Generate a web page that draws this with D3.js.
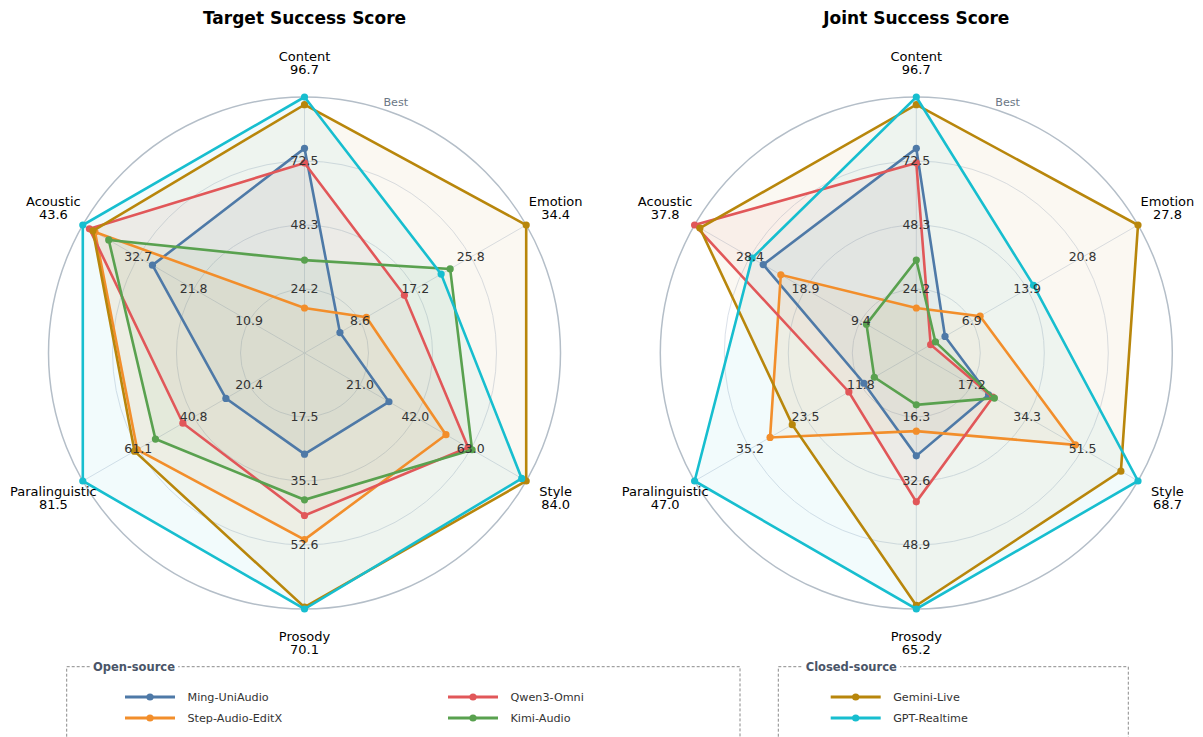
<!DOCTYPE html>
<html>
<head>
<meta charset="utf-8">
<script src="https://cdn.jsdelivr.net/npm/d3@7"></script>
<style>
  html, body { margin: 0; padding: 0; background: #ffffff; }
  svg { display: block; font-family: "DejaVu Sans", sans-serif; }
</style>
</head>
<body>
<svg id="chart" width="1203" height="737"></svg>
<script>
// ---------- DATA ----------
const axes = ["Content", "Emotion", "Style", "Prosody", "Paralinguistic", "Acoustic"];

const seriesNames = ["Ming-UniAudio", "Step-Audio-EditX", "Qwen3-Omni", "Kimi-Audio", "Gemini-Live", "GPT-Realtime"];
const seriesGroups = ["Open-source", "Open-source", "Open-source", "Open-source", "Closed-source", "Closed-source"];

// Target Success Score
const targetMax = [96.7, 34.4, 84.0, 70.1, 81.5, 43.6];
const targetMaxLabels = ["96.7", "34.4", "84.0", "70.1", "81.5", "43.6"];
const targetTicks = [
  ["24.2", "48.3", "72.5"],
  ["8.6", "17.2", "25.8"],
  ["21.0", "42.0", "63.0"],
  ["17.5", "35.1", "52.6"],
  ["20.4", "40.8", "61.1"],
  ["10.9", "21.8", "32.7"]
];
const targetMing   = [77.3, 5.5, 32.0, 27.7, 28.9, 29.9];
const targetStep   = [17.0, 9.6, 53.6, 51.1, 61.5, 41.2];
const targetQwen   = [71.8, 15.5, 62.0, 44.5, 44.7, 42.3];
const targetKimi   = [35.1, 22.6, 63.5, 40.2, 54.8, 38.5];
const targetGemini = [93.8, 34.4, 84.0, 69.6, 62.5, 41.6];
const targetGPT    = [96.7, 21.2, 82.3, 70.1, 81.5, 43.6];

// Joint Success Score
const jointMax = [96.7, 27.8, 68.7, 65.2, 47.0, 37.8];
const jointMaxLabels = ["96.7", "27.8", "68.7", "65.2", "47.0", "37.8"];
const jointTicks = [
  ["24.2", "48.3", "72.5"],
  ["6.9", "13.9", "20.8"],
  ["17.2", "34.3", "51.5"],
  ["16.3", "32.6", "48.9"],
  ["11.8", "23.5", "35.2"],
  ["9.4", "18.9", "28.4"]
];
const jointMing   = [77.3, 3.6, 22.4, 26.2, 11.1, 26.1];
const jointStep   = [17.0, 8.0, 49.3, 19.9, 31.0, 23.1];
const jointQwen   = [71.8, 1.8, 23.7, 37.9, 14.3, 37.8];
const jointKimi   = [35.1, 2.4, 24.2, 13.2, 8.9, 8.5];
const jointGemini = [93.8, 27.8, 63.4, 64.3, 26.3, 36.9];
const jointGPT    = [96.7, 14.7, 68.7, 65.2, 47.0, 28.0];

const colors = ["#4e79a7", "#f28e2b", "#e15759", "#59a14f", "#b8860b", "#17becf"];

// ---------- CHART ----------
const svg = d3.select("#chart");
svg.append("rect").attr("width", 1203).attr("height", 737).attr("fill", "#ffffff");

const R = 256;
const ringLevels = [0.25, 0.5, 0.75];

function drawRadar(cx, cy, title, maxVals, maxLabels, ticks, seriesVals) {
  const g = svg.append("g").attr("transform", `translate(${cx},${cy})`);
  const n = axes.length;
  const angle = d3.scaleLinear().domain([0, n]).range([0, 2 * Math.PI]);
  const rScales = maxVals.map(m => d3.scaleLinear().domain([0, m]).range([0, R]));
  const pt = (a, r) => [r * Math.sin(a), -r * Math.cos(a)];

  // title
  svg.append("text")
    .attr("x", cx).attr("y", 18)
    .attr("text-anchor", "middle").attr("dominant-baseline", "central")
    .attr("font-size", 17).attr("font-weight", "bold").attr("fill", "#000")
    .text(title);

  // grid rings
  g.selectAll("circle.ring").data(ringLevels).enter().append("circle")
    .attr("r", d => d * R).attr("fill", "none")
    .attr("stroke", "#dbe1ea").attr("stroke-width", 1);
  // spokes
  axes.forEach((ax, i) => {
    const [x, y] = pt(angle(i), R);
    g.append("line").attr("x1", 0).attr("y1", 0).attr("x2", x).attr("y2", y)
      .attr("stroke", "#dbe1ea").attr("stroke-width", 1);
  });
  // outer ring
  g.append("circle").attr("r", R).attr("fill", "none")
    .attr("stroke", "#b4bec8").attr("stroke-width", 1.5);

  const line = d3.lineRadial()
    .angle((d, i) => angle(i))
    .radius((d, i) => rScales[i](d))
    .curve(d3.curveLinearClosed);

  // fills
  seriesVals.forEach((vals, s) => {
    g.append("path").attr("d", line(vals))
      .attr("fill", colors[s]).attr("fill-opacity", 0.055).attr("stroke", "none");
  });
  // lines + markers
  seriesVals.forEach((vals, s) => {
    g.append("path").attr("d", line(vals))
      .attr("fill", "none").attr("stroke", colors[s]).attr("stroke-width", 2.6)
      .attr("stroke-linejoin", "miter");
    g.selectAll(null).data(vals).enter().append("circle")
      .attr("cx", (d, i) => pt(angle(i), rScales[i](d))[0])
      .attr("cy", (d, i) => pt(angle(i), rScales[i](d))[1])
      .attr("r", 3.6).attr("fill", colors[s]);
  });

  // tick labels
  axes.forEach((ax, i) => {
    ringLevels.forEach((lv, k) => {
      const [x, y] = pt(angle(i), rScales[i](maxVals[i] * lv));
      g.append("text").attr("x", x).attr("y", y - 1)
        .attr("text-anchor", "middle").attr("dominant-baseline", "central")
        .attr("font-size", 12.5).attr("fill", "#333333")
        .text(ticks[i][k]);
    });
  });

  // axis labels
  axes.forEach((ax, i) => {
    const [x, y] = pt(angle(i), 290);
    const t = g.append("text").attr("text-anchor", "middle")
      .attr("font-size", 13).attr("fill", "#000");
    t.append("tspan").attr("x", x).attr("y", y - 6.8).attr("dominant-baseline", "central").text(ax);
    t.append("tspan").attr("x", x).attr("y", y + 6.8).attr("dominant-baseline", "central").text(maxLabels[i]);
  });

  // "Best" label
  const [bx, by] = pt(20 * Math.PI / 180, 267);
  g.append("text").attr("x", bx).attr("y", by)
    .attr("text-anchor", "middle").attr("dominant-baseline", "central")
    .attr("font-size", 11.2).attr("fill", "#6b7785").text("Best");
}

drawRadar(304.5, 353, "Target Success Score", targetMax, targetMaxLabels, targetTicks,
  [targetMing, targetStep, targetQwen, targetKimi, targetGemini, targetGPT]);
drawRadar(916.3, 353, "Joint Success Score", jointMax, jointMaxLabels, jointTicks,
  [jointMing, jointStep, jointQwen, jointKimi, jointGemini, jointGPT]);

// ---------- LEGENDS ----------
function drawLegend(x0, x1, y0, title, titleX, items) {
  const lg = svg.append("g");
  // dashed box (bottom extends beyond canvas)
  lg.append("path")
    .attr("d", `M${x0},${y0 + 80} L${x0},${y0} L${x1},${y0} L${x1},${y0 + 80}`)
    .attr("fill", "none").attr("stroke", "#8a8a8a").attr("stroke-width", 1)
    .attr("stroke-dasharray", "3,2");
  const tt = lg.append("text").attr("x", titleX).attr("y", y0)
    .attr("dominant-baseline", "central")
    .attr("font-size", 11.5).attr("font-weight", "bold").attr("fill", "#4a5568")
    .text(title);
  const bb = tt.node().getBBox();
  lg.insert("rect", "text").attr("x", bb.x - 3).attr("y", y0 - 4).attr("width", bb.width + 6).attr("height", 8)
    .attr("fill", "#ffffff");
  items.forEach(it => {
    lg.append("line").attr("x1", it.x).attr("x2", it.x + 50).attr("y1", it.y).attr("y2", it.y)
      .attr("stroke", it.color).attr("stroke-width", 3);
    lg.append("circle").attr("cx", it.x + 25).attr("cy", it.y).attr("r", 3.6).attr("fill", it.color);
    lg.append("text").attr("x", it.x + 62.5).attr("y", it.y)
      .attr("dominant-baseline", "central").attr("font-size", 11.2).attr("fill", "#333333")
      .text(it.name);
  });
}

const openIdx = seriesNames.map((d, i) => i).filter(i => seriesGroups[i] === "Open-source");
const closedIdx = seriesNames.map((d, i) => i).filter(i => seriesGroups[i] === "Closed-source");
const rowsY = [697, 718];

drawLegend(66.7, 740, 666.7, "Open-source", 93,
  openIdx.map((si, k) => ({
    name: seriesNames[si], color: colors[si],
    x: k < 2 ? 125 : 448, y: rowsY[k % 2]
  })).map((it, k) => {
    // column order: Ming, Step in col 1; Qwen, Kimi in col 2
    return it;
  }));
drawLegend(778.3, 1128.3, 666.7, "Closed-source", 805.7,
  closedIdx.map((si, k) => ({
    name: seriesNames[si], color: colors[si], x: 830.7, y: rowsY[k]
  })));
</script>
</body>
</html>
